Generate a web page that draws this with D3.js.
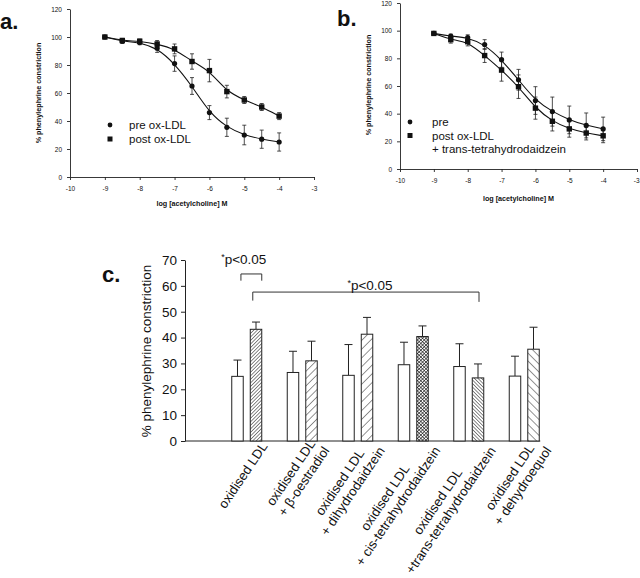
<!DOCTYPE html>
<html><head><meta charset="utf-8">
<script src="https://cdn.jsdelivr.net/npm/d3@7"></script>
<style>
body{margin:0;background:#fff}
svg{display:block}
text{font-family:"Liberation Sans",Arial,sans-serif;fill:#111}
</style></head><body>
<svg id="chart" width="640" height="578"></svg>
<script>
// ---------- data: panels a & b ----------
const logAch = [-9, -8.5, -8, -7.5, -7, -6.5, -6, -5.5, -5, -4.5, -4];
const aPre = [100, 97, 96, 92, 81, 65, 46, 35.5, 30, 27, 25];
const aPreErr = [0.8, 1.5, 1.5, 3, 5.5, 6, 5, 6.5, 7, 6.5, 6.5];
const aPost = [100, 97.5, 97, 95, 91.5, 82.5, 76, 61, 55, 50, 43.5];
const aPostErr = [0.8, 1.5, 1.5, 2.5, 3.5, 5.5, 8, 4.5, 2.5, 2.5, 2.5];
const bPre = [98, 96, 95, 90, 79, 64.5, 49.5, 41.5, 35.5, 31.5, 29];
const bPreErr = [1, 1.5, 2, 3.5, 5.5, 7.5, 10, 10.5, 10, 9, 8.5];
const bPost = [98, 93.5, 92, 82, 71.5, 59.5, 44, 34.5, 29, 26, 24];
const bPostErr = [1, 2.5, 3, 5, 8, 8.5, 8, 7, 6, 5, 5];
const xTicksAB = [-10, -9, -8, -7, -6, -5, -4, -3];
const yTicksAB = [0, 20, 40, 60, 80, 100, 120];
const legendA = ["pre ox-LDL", "post ox-LDL"];
const legendB = ["pre", "post ox-LDL", "+ trans-tetrahydrodaidzein"];

// ---------- data: panel c ----------
const barCategories = [
  ["oxidised LDL"],
  ["oxidised LDL", "+ β-oestradiol"],
  ["oxidised LDL", "+ dihydrodaidzein"],
  ["oxidised LDL", "+ cis-tetrahydrodaidzein"],
  ["oxidised LDL", "+trans-tetrahydrodaidzein"],
  ["oxidised LDL", "+ dehydroequol"]
];
const ctrlMean = [25, 26.5, 25.4, 29.5, 28.8, 25.1];
const ctrlErr = [6.3, 8.2, 11.9, 8.7, 8.8, 7.7];
const treatMean = [43.2, 31, 41.3, 40.4, 24.4, 35.5];
const treatErr = [2.8, 7.6, 6.5, 4.1, 5.4, 8.5];
const yTicksC = [0, 10, 20, 30, 40, 50, 60, 70];
const sigLabel = "p<0.05";

const svg = d3.select("#chart");
const FONT = '"Liberation Sans",Arial,sans-serif';

// ---------- patterns ----------
const defs = svg.append("defs");
function linePattern(id, spacing, angle, sw) {
  const p = defs.append("pattern").attr("id", id).attr("patternUnits", "userSpaceOnUse")
    .attr("width", spacing).attr("height", spacing)
    .attr("patternTransform", `rotate(${angle})`);
  p.append("rect").attr("width", spacing).attr("height", spacing).attr("fill", "#fff");
  p.append("line").attr("x1", 0).attr("y1", 0).attr("x2", 0).attr("y2", spacing)
    .attr("stroke", "#111").attr("stroke-width", sw);
}
linePattern("h1", 2.5, 45, 1);
linePattern("h2", 5.2, 45, 0.9);
linePattern("h3", 6.2, 45, 0.9);
linePattern("h5", 2.5, -45, 1);
linePattern("h6", 5.6, -45, 0.9);
{
  const s = 2.4;
  const p = defs.append("pattern").attr("id", "h4").attr("patternUnits", "userSpaceOnUse")
    .attr("width", s).attr("height", s).attr("patternTransform", "rotate(45)");
  p.append("rect").attr("width", s).attr("height", s).attr("fill", "#fff");
  p.append("line").attr("x1", 0).attr("y1", 0).attr("x2", 0).attr("y2", s).attr("stroke", "#111").attr("stroke-width", 1.2);
  p.append("line").attr("x1", 0).attr("y1", 0).attr("x2", s).attr("y2", 0).attr("stroke", "#111").attr("stroke-width", 1.2);
}
const fills = ["url(#h1)", "url(#h2)", "url(#h3)", "url(#h4)", "url(#h5)", "url(#h6)"];

// ---------- dose-response panel ----------
function dosePanel(cfg) {
  const g = svg.append("g");
  const x = d3.scaleLinear().domain([-10, -3]).range(cfg.xr);
  const y = d3.scaleLinear().domain([0, 120]).range(cfg.yr);

  const ya = g.append("g").attr("transform", `translate(${cfg.xr[0]},0)`)
    .call(d3.axisLeft(y).tickValues(yTicksAB).tickFormat(d => String(d)).tickSize(3).tickSizeOuter(0).tickPadding(5));
  const xa = g.append("g").attr("transform", `translate(0,${cfg.yr[0]})`)
    .call(d3.axisBottom(x).tickValues(xTicksAB).tickFormat(d => String(d)).tickSize(3).tickSizeOuter(0).tickPadding(6));
  [ya, xa].forEach(a => {
    a.selectAll("path,line").attr("stroke", "#222").attr("stroke-width", 0.9);
    a.selectAll("text").attr("font-family", FONT).attr("font-size", 6.5).attr("fill", "#222");
  });
  if (cfg.lastEnd) xa.selectAll(".tick text").filter(d => d === -3).attr("text-anchor", "end").attr("dx", 2);

  g.append("text").attr("x", (cfg.xr[0] + cfg.xr[1]) / 2 + cfg.xlabDx).attr("y", cfg.xlabY)
    .attr("text-anchor", "middle").attr("font-size", 7.2).attr("font-weight", "bold")
    .text("log [acetylcholine] M");
  g.append("text").attr("transform", `translate(${cfg.ylabX},${cfg.ylabY}) rotate(-90)`)
    .attr("text-anchor", "middle").attr("font-size", 7.2).attr("font-weight", "bold")
    .text("% phenylephrine constriction");
  g.append("text").attr("x", cfg.tagX).attr("y", cfg.tagY)
    .attr("font-size", 22).attr("font-weight", "bold").text(cfg.tag);

  const line = d3.line().x((d, i) => x(logAch[i])).y(d => y(d)).curve(d3.curveBasis);
  cfg.series.forEach(s => {
    g.append("path").datum(s.v).attr("d", line).attr("fill", "none")
      .attr("stroke", "#111").attr("stroke-width", 1.1);
  });
  cfg.series.forEach(s => {
    s.v.forEach((v, i) => {
      const cx = x(logAch[i]);
      const e = s.e[i];
      g.append("line").attr("x1", cx).attr("x2", cx).attr("y1", y(v - e)).attr("y2", y(v + e))
        .attr("stroke", "#222").attr("stroke-width", 0.8);
      [v - e, v + e].forEach(t => g.append("line").attr("x1", cx - 2).attr("x2", cx + 2)
        .attr("y1", y(t)).attr("y2", y(t)).attr("stroke", "#222").attr("stroke-width", 0.8));
    });
  });
  cfg.series.forEach(s => {
    s.v.forEach((v, i) => {
      const cx = x(logAch[i]), cy = y(v);
      if (s.shape === "circle") g.append("circle").attr("cx", cx).attr("cy", cy).attr("r", 2.6).attr("fill", "#111");
      else g.append("rect").attr("x", cx - 2.7).attr("y", cy - 2.7).attr("width", 5.4).attr("height", 5.4).attr("fill", "#111");
    });
  });

  // legend
  cfg.legend.forEach((t, i) => {
    const ly = cfg.legY + i * cfg.legDy;
    g.append("text").attr("x", cfg.legTextX).attr("y", ly).attr("font-size", 11.5).text(t);
    if (i < 2) {
      if (i === 0) g.append("circle").attr("cx", cfg.legMarkX).attr("cy", ly - 4).attr("r", 2.4).attr("fill", "#111");
      else g.append("rect").attr("x", cfg.legMarkX - 2.5).attr("y", ly - 6.5).attr("width", 5).attr("height", 5).attr("fill", "#111");
    }
  });
}

dosePanel({
  xr: [70, 314], yr: [177, 9], tag: "a.", tagX: 0, tagY: 29,
  xlabY: 206, xlabDx: 0, ylabX: 41, ylabY: 93,
  series: [{v: aPost, e: aPostErr, shape: "square"}, {v: aPre, e: aPreErr, shape: "circle"}],
  legend: legendA, legY: 129, legDy: 14, legTextX: 129, legMarkX: 110
});
dosePanel({
  xr: [400, 637], yr: [169, 3], tag: "b.", tagX: 337, tagY: 26, lastEnd: true,
  xlabY: 201, xlabDx: 0, ylabX: 371, ylabY: 85,
  series: [{v: bPre, e: bPreErr, shape: "circle"}, {v: bPost, e: bPostErr, shape: "square"}],
  legend: legendB, legY: 126, legDy: 13.5, legTextX: 432, legMarkX: 410
});

// ---------- panel c ----------
const gc = svg.append("g");
const yc = d3.scaleLinear().domain([0, 70]).range([441, 260]);
const xc = d3.scaleBand().domain(d3.range(barCategories.length)).range([219, 552]).paddingInner(0).paddingOuter(0);
const x1 = d3.scaleBand().domain(["ctrl", "treat"]).range([-15, 15]).paddingInner(0.38);
const bw = x1.bandwidth();
const axisX0 = 185;

const yAxC = gc.append("g").attr("transform", `translate(${axisX0},0)`)
  .call(d3.axisLeft(yc).tickValues(yTicksC).tickSize(4).tickSizeOuter(0).tickPadding(4));
yAxC.selectAll("path,line").attr("stroke", "#222").attr("stroke-width", 1);
yAxC.selectAll("text").attr("font-family", FONT).attr("font-size", 13.5).attr("fill", "#111");

const gcen = i => xc(i) + xc.bandwidth() / 2;
const lastRight = gcen(barCategories.length - 1) + x1("treat") + bw;
gc.append("line").attr("x1", axisX0).attr("x2", lastRight + 1).attr("y1", yc(0)).attr("y2", yc(0))
  .attr("stroke", "#222").attr("stroke-width", 1);

gc.append("text").attr("transform", `translate(151,351) rotate(-90)`)
  .attr("text-anchor", "middle").attr("font-size", 13.5).text("% phenylephrine constriction");
gc.append("text").attr("x", 102).attr("y", 282).attr("font-size", 22).attr("font-weight", "bold").text("c.");

barCategories.forEach((cat, i) => {
  const c = gcen(i);
  const bars = [
    {x: c + x1("ctrl"), v: ctrlMean[i], e: ctrlErr[i], fill: "#fff"},
    {x: c + x1("treat"), v: treatMean[i], e: treatErr[i], fill: fills[i]}
  ];
  bars.forEach(b => {
    const mx = b.x + bw / 2;
    gc.append("line").attr("x1", mx).attr("x2", mx).attr("y1", yc(b.v)).attr("y2", yc(b.v + b.e))
      .attr("stroke", "#222").attr("stroke-width", 1);
    gc.append("line").attr("x1", mx - 4).attr("x2", mx + 4).attr("y1", yc(b.v + b.e)).attr("y2", yc(b.v + b.e))
      .attr("stroke", "#222").attr("stroke-width", 1);
    gc.append("rect").attr("x", b.x).attr("y", yc(b.v)).attr("width", bw).attr("height", yc(0) - yc(b.v))
      .attr("fill", b.fill).attr("stroke", "#222").attr("stroke-width", 1);
  });
  // rotated multi-line label
  const lg = gc.append("g").attr("transform", `translate(${c + 1},${yc(0)}) rotate(-56)`);
  const lh = 15.5, n = cat.length;
  const tEls = cat.map((t, k) => lg.append("text").attr("font-size", 13.2).attr("text-anchor", "middle")
    .attr("y", 15 + (k - (n - 1) / 2) * lh + 4.7).text(t));
  const W = d3.max(tEls, t => t.node().getComputedTextLength());
  tEls.forEach(t => t.attr("x", -W / 2 + 7));
});

// significance brackets
function bracket(x0, x1b, yTop, yL, yR) {
  gc.append("path").attr("d", `M${x0},${yc(yL)}V${yc(yTop)}H${x1b}V${yc(yR)}`)
    .attr("fill", "none").attr("stroke", "#333").attr("stroke-width", 1);
}
function sig(xm, yv) {
  const t = gc.append("text").attr("x", xm).attr("y", yc(yv)).attr("text-anchor", "middle").attr("font-size", 13.5);
  t.append("tspan").attr("font-size", 9).attr("dy", -4).text("*");
  t.append("tspan").attr("dy", 4).text(sigLabel);
}
const c0 = gcen(0), c4 = gcen(4);
bracket(c0 + x1("ctrl") + bw * 0.8, c0 + x1("treat") + bw, 64.6, 62, 62);
sig(c0 - 3, 68.6);
bracket(c0 + x1("treat") + 2.5, c4 + x1("treat") + bw / 2 + 1, 57.6, 54.3, 53.8);
sig(370, 58.3);
</script>
</body></html>
